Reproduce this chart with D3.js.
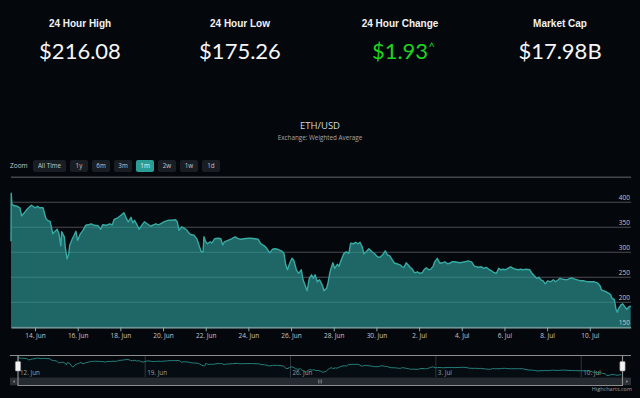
<!DOCTYPE html>
<html><head><meta charset="utf-8">
<script src="https://cdn.jsdelivr.net/npm/d3@7"></script>
<style>
html,body{margin:0;padding:0;background:#04070c;}
svg{display:block;}
</style></head><body>
<svg id="c" width="640" height="398"></svg>
<script>
const statLabels = ["24 Hour High", "24 Hour Low", "24 Hour Change", "Market Cap"];
const statValues = ["$216.08", "$175.26", "$1.93", "$17.98B"];
const chartTitle = "ETH/USD";
const chartSubtitle = "Exchange: Weighted Average";
const zoomButtons = ["All Time", "1y", "6m", "3m", "1m", "2w", "1w", "1d"];
const selectedButton = "1m";

const times = [
"2017-06-12 21:00","2017-06-12 21:15","2017-06-12 22:00","2017-06-13 01:00","2017-06-13 04:00","2017-06-13 07:00","2017-06-13 09:00","2017-06-13 12:00","2017-06-13 14:00","2017-06-13 18:00",
"2017-06-13 20:00","2017-06-14 00:00","2017-06-14 03:00","2017-06-14 05:00","2017-06-14 09:00","2017-06-14 12:00","2017-06-14 14:00","2017-06-14 17:00","2017-06-14 18:00","2017-06-14 20:00",
"2017-06-14 22:00","2017-06-15 01:00","2017-06-15 03:00","2017-06-15 05:00","2017-06-15 06:00","2017-06-15 09:00","2017-06-15 10:00","2017-06-15 12:00","2017-06-15 14:00","2017-06-15 15:00",
"2017-06-15 18:00","2017-06-15 20:00","2017-06-15 22:00","2017-06-16 00:00","2017-06-16 03:00","2017-06-16 06:00","2017-06-16 09:00","2017-06-16 12:00","2017-06-16 15:00","2017-06-16 19:00",
"2017-06-16 23:00","2017-06-17 02:00","2017-06-17 04:00","2017-06-17 08:00","2017-06-17 12:00","2017-06-17 15:00","2017-06-17 17:00","2017-06-17 21:00","2017-06-18 00:00","2017-06-18 04:00",
"2017-06-18 07:00","2017-06-18 09:00","2017-06-18 12:00","2017-06-18 14:00","2017-06-18 16:00","2017-06-18 19:00","2017-06-18 21:00","2017-06-19 00:00","2017-06-19 03:00","2017-06-19 07:00",
"2017-06-19 10:00","2017-06-19 13:00","2017-06-19 16:00","2017-06-19 19:00","2017-06-19 23:00","2017-06-20 02:00","2017-06-20 06:00","2017-06-20 10:00","2017-06-20 14:00","2017-06-20 16:00",
"2017-06-20 18:00","2017-06-20 21:00","2017-06-21 00:00","2017-06-21 03:00","2017-06-21 06:00","2017-06-21 08:00","2017-06-21 11:00","2017-06-21 14:00","2017-06-21 15:00","2017-06-21 17:00",
"2017-06-21 19:00","2017-06-21 21:00","2017-06-21 22:00","2017-06-22 00:00","2017-06-22 02:00","2017-06-22 05:00","2017-06-22 07:00","2017-06-22 10:00","2017-06-22 14:00","2017-06-22 17:00",
"2017-06-22 19:00","2017-06-22 21:00","2017-06-23 01:00","2017-06-23 05:00","2017-06-23 09:00","2017-06-23 12:00","2017-06-23 15:00","2017-06-23 19:00","2017-06-24 00:00","2017-06-24 03:00",
"2017-06-24 07:00","2017-06-24 11:00","2017-06-24 14:00","2017-06-24 18:00","2017-06-24 21:00","2017-06-25 00:00","2017-06-25 03:00","2017-06-25 06:00","2017-06-25 09:00","2017-06-25 13:00",
"2017-06-25 16:00","2017-06-25 18:00","2017-06-25 20:00","2017-06-25 22:30","2017-06-26 01:00","2017-06-26 03:00","2017-06-26 06:00","2017-06-26 08:30","2017-06-26 11:30","2017-06-26 13:30",
"2017-06-26 16:00","2017-06-26 18:00","2017-06-26 20:30","2017-06-26 23:00","2017-06-27 01:00","2017-06-27 03:00","2017-06-27 05:30","2017-06-27 08:00","2017-06-27 11:00","2017-06-27 13:00",
"2017-06-27 16:00","2017-06-27 17:30","2017-06-27 19:30","2017-06-27 21:00","2017-06-27 23:00","2017-06-28 01:00","2017-06-28 04:00","2017-06-28 06:00","2017-06-28 08:30","2017-06-28 11:30",
"2017-06-28 14:00","2017-06-28 17:00","2017-06-28 19:00","2017-06-28 22:00","2017-06-29 00:30","2017-06-29 03:30","2017-06-29 05:30","2017-06-29 08:00","2017-06-29 10:00","2017-06-29 12:30",
"2017-06-29 15:30","2017-06-29 19:00","2017-06-29 22:00","2017-06-30 01:00","2017-06-30 04:00","2017-06-30 07:00","2017-06-30 10:00","2017-06-30 12:30","2017-06-30 15:00","2017-06-30 17:30",
"2017-06-30 20:30","2017-06-30 23:30","2017-07-01 02:30","2017-07-01 05:00","2017-07-01 07:00","2017-07-01 09:30","2017-07-01 11:30","2017-07-01 14:00","2017-07-01 16:30","2017-07-01 19:00",
"2017-07-01 22:00","2017-07-02 01:00","2017-07-02 03:30","2017-07-02 05:30","2017-07-02 08:00","2017-07-02 11:00","2017-07-02 13:00","2017-07-02 16:00","2017-07-02 17:30","2017-07-02 20:30",
"2017-07-02 23:30","2017-07-03 02:00","2017-07-03 05:00","2017-07-03 08:00","2017-07-03 10:30","2017-07-03 13:00","2017-07-03 16:00","2017-07-03 19:00","2017-07-03 22:00","2017-07-04 03:30",
"2017-07-04 07:00","2017-07-04 11:00","2017-07-04 14:00","2017-07-04 16:30","2017-07-04 19:00","2017-07-04 22:00","2017-07-05 01:00","2017-07-05 03:30","2017-07-05 06:30","2017-07-05 09:30",
"2017-07-05 12:30","2017-07-05 15:00","2017-07-05 17:30","2017-07-05 20:00","2017-07-05 22:30","2017-07-06 01:00","2017-07-06 04:00","2017-07-06 07:00","2017-07-06 10:00","2017-07-06 12:30",
"2017-07-06 15:30","2017-07-06 18:30","2017-07-06 21:00","2017-07-07 00:30","2017-07-07 04:30","2017-07-07 07:00","2017-07-07 09:30","2017-07-07 12:00","2017-07-07 14:30","2017-07-07 17:00",
"2017-07-07 19:30","2017-07-07 22:00","2017-07-08 00:30","2017-07-08 04:00","2017-07-08 07:00","2017-07-08 09:30","2017-07-08 12:30","2017-07-08 14:30","2017-07-08 18:00","2017-07-08 21:30",
"2017-07-09 00:30","2017-07-09 03:30","2017-07-09 06:30","2017-07-09 10:00","2017-07-09 14:00","2017-07-09 17:30","2017-07-09 21:30","2017-07-10 01:00","2017-07-10 05:00","2017-07-10 08:30",
"2017-07-10 11:30","2017-07-10 13:00","2017-07-10 16:00","2017-07-10 18:30","2017-07-10 21:30","2017-07-10 23:30","2017-07-11 01:00","2017-07-11 03:30","2017-07-11 05:30","2017-07-11 07:00",
"2017-07-11 08:30","2017-07-11 11:00","2017-07-11 13:00","2017-07-11 15:30","2017-07-11 17:30","2017-07-11 20:00","2017-07-11 22:00"
];
const prices = [
322,418,396,393,392,389,373,379,384,391,
394,389,392,389,389,369,364,362,354,337,
341,346,337,313,341,331,311,287,297,314,
327,334,342,324,337,344,354,355,357,354,
353,346,355,354,357,355,366,369,373,379,
367,361,370,359,364,354,346,354,361,356,
352,355,357,355,359,362,364,364,365,361,
344,351,348,344,337,335,334,327,322,311,
301,301,331,321,317,321,319,327,328,327,
315,321,324,327,331,328,326,327,328,328,
327,326,317,313,307,299,306,307,306,303,
298,275,265,278,288,284,265,258,265,245,
233,223,248,255,248,255,241,245,235,223,
228,238,258,268,279,268,276,272,285,298,
301,298,318,317,320,317,320,311,297,301,
307,301,297,291,290,295,303,295,293,286,
278,277,275,271,270,279,275,270,266,259,
261,258,259,265,269,265,266,273,281,288,
278,279,281,277,278,281,281,280,279,281,
283,281,273,271,270,271,268,270,266,263,
259,258,268,265,266,265,268,271,268,266,
265,266,265,266,265,258,253,248,250,245,
243,237,243,241,245,241,245,248,246,245,
247,249,247,245,243,243,241,241,241,239,
233,225,223,221,218,215,208,206,186,180,
188,195,197,191,186,191,193
];
const yTicks = [150, 200, 250, 300, 350, 400, 450];
const xTickDates = ["2017-06-14","2017-06-16","2017-06-18","2017-06-20","2017-06-22","2017-06-24","2017-06-26",
  "2017-06-28","2017-06-30","2017-07-02","2017-07-04","2017-07-06","2017-07-08","2017-07-10"];
const navTickDates = ["2017-06-12","2017-06-19","2017-06-26","2017-07-03","2017-07-10"];

const parseT = d3.utcParse("%Y-%m-%d %H:%M");
const parseD = d3.utcParse("%Y-%m-%d");
const data = times.map((t, i) => ({ t: parseT(t), v: prices[i] }));
const fmt = d3.utcFormat("%-d. %b");

const svg = d3.select("#c");
const FONT = "'Open Sans', 'DejaVu Sans', sans-serif";

// ---- stats header
const colX = d3.scalePoint().domain(statLabels).range([80, 560]);
statLabels.forEach((lab, i) => {
  svg.append("text").attr("x", colX(lab)).attr("y", 26.5).attr("text-anchor", "middle")
    .attr("font-family", "'Liberation Sans', Arial, sans-serif").attr("font-weight", "bold")
    .attr("font-size", 10).attr("fill", "#f2f2f2").text(lab);
  const isChange = i === 2;
  svg.append("text").attr("x", colX(lab)).attr("y", 59.3).attr("text-anchor", "middle")
    .attr("font-family", "Lato, sans-serif").attr("font-weight", 400)
    .attr("font-size", 22).attr("fill", isChange ? "#1ed41e" : "#f5f5f5").text(statValues[i]);
  if (isChange) {
    svg.append("text").attr("x", colX(lab) + 28.5).attr("y", 51)
      .attr("font-family", "Lato, sans-serif").attr("font-size", 11)
      .attr("fill", "#1ed41e").text("^");
  }
});

// ---- title
svg.append("text").attr("x", 320).attr("y", 129).attr("text-anchor", "middle")
  .attr("font-family", FONT).attr("font-size", 9.5).attr("fill", "#d3d9df").text(chartTitle);
svg.append("text").attr("x", 320).attr("y", 140).attr("text-anchor", "middle")
  .attr("font-family", FONT).attr("font-size", 6.3).attr("fill", "#a8a8a8").text(chartSubtitle);

// ---- range selector
svg.append("text").attr("x", 10).attr("y", 168.3).attr("font-family", FONT)
  .attr("font-size", 6.5).attr("fill", "#c8c8c8").text("Zoom");
let bx = 33;
zoomButtons.forEach(b => {
  const w = b === "All Time" ? 33 : 18;
  const sel = b === selectedButton;
  svg.append("rect").attr("x", bx).attr("y", 160).attr("width", w).attr("height", 12)
    .attr("rx", 2).attr("fill", sel ? "#2a9d96" : "#191e25");
  svg.append("text").attr("x", bx + w / 2).attr("y", 168.3).attr("text-anchor", "middle")
    .attr("font-family", FONT).attr("font-size", 6.3).attr("fill", sel ? "#eaf6f5" : "#c4c4c4").text(b);
  bx += w + 4;
});

// ---- main chart
const t0 = data[0].t, t1 = data[data.length - 1].t;
const x = d3.scaleUtc().domain([t0, t1]).range([11, 630.7]);
const y = d3.scaleLinear().domain([150, 450]).range([327.3, 177.3]);

const grid = svg.append("g");
yTicks.forEach(v => {
  grid.append("line").attr("x1", 11).attr("x2", 631).attr("y1", y(v)).attr("y2", y(v))
    .attr("stroke", v === 450 ? "#44484d" : "#4a4d52").attr("stroke-width", v === 450 ? 1.6 : 1.1);
});

svg.append("path").datum(data)
  .attr("d", d3.area().x(d => x(d.t)).y0(y(150)).y1(d => y(d.v)))
  .attr("fill", "rgb(46,154,149)").attr("fill-opacity", 0.66);
svg.append("path").datum(data)
  .attr("d", d3.line().x(d => x(d.t)).y(d => y(d.v)))
  .attr("fill", "none").attr("stroke", "#36aaa3").attr("stroke-width", 1.4).attr("stroke-linejoin", "round");

// y labels
yTicks.filter(v => v < 450).forEach(v => {
  svg.append("text").attr("x", 630).attr("y", y(v) - 2.5).attr("text-anchor", "end")
    .attr("font-family", FONT).attr("font-size", 6.5).attr("fill", "#c6c6c6").text(v);
});

// x axis
const xAxis = d3.axisBottom(x).tickValues(xTickDates.map(parseD)).tickFormat(fmt).tickSize(4).tickSizeOuter(0);
const gx = svg.append("g").attr("transform", `translate(0,${y(150)})`).call(xAxis);
gx.select(".domain").attr("stroke", "#86aeae").attr("stroke-width", 1.2);
gx.selectAll(".tick line").attr("stroke", "#86aeae");
gx.selectAll(".tick text").attr("font-family", FONT).attr("font-size", 6.5).attr("fill", "#c8c8c8").attr("dy", "0.5em");

// ---- navigator
const nx = d3.scaleUtc().domain([t0, t1]).range([18, 621]);
const ny = d3.scaleLinear().domain([165, 420]).range([377, 356]);
navTickDates.map(parseD).forEach(d => {
  const px = nx(d);
  if (px >= 18) {
    svg.append("line").attr("x1", px).attr("x2", px).attr("y1", 356).attr("y2", 377.5)
      .attr("stroke", "#30353b").attr("stroke-width", 1);
  }
  svg.append("text").attr("x", Math.max(px, 18) + 2).attr("y", 375.3)
    .attr("font-family", FONT).attr("font-size", 6.3).attr("fill", "#a0a0a0").text(fmt(d));
});
svg.append("path").datum(data)
  .attr("d", d3.area().x(d => nx(d.t)).y0(377).y1(d => ny(d.v)))
  .attr("fill", "#2a8d88").attr("fill-opacity", 0.05);
svg.append("path").datum(data)
  .attr("d", d3.line().x(d => nx(d.t)).y(d => ny(d.v)))
  .attr("fill", "none").attr("stroke", "#24807b").attr("stroke-width", 1);

// scrollbar
svg.append("rect").attr("x", 10).attr("y", 377.7).attr("width", 621).attr("height", 7.5).attr("fill", "#1f242b");
svg.append("rect").attr("x", 18).attr("y", 377.7).attr("width", 604.5).attr("height", 7.5).attr("fill", "#262b32");
[10, 623.5].forEach((bxp, i) => {
  svg.append("rect").attr("x", bxp).attr("y", 377.7).attr("width", 7.5).attr("height", 7.5).attr("fill", "#2c3138");
  const cx = bxp + 3.75, cy = 381.45;
  svg.append("path").attr("d", i === 0
      ? `M${cx + 1},${cy - 1.5}L${cx - 1},${cy}L${cx + 1},${cy + 1.5}Z`
      : `M${cx - 1},${cy - 1.5}L${cx + 1},${cy}L${cx - 1},${cy + 1.5}Z`)
    .attr("fill", "#8a8a8a");
});
[-1.5, 0, 1.5].forEach(o => {
  svg.append("line").attr("x1", 320 + o).attr("x2", 320 + o).attr("y1", 379.5).attr("y2", 383.5)
    .attr("stroke", "#8a8a8a").attr("stroke-width", 0.7);
});

// outline
svg.append("path")
  .attr("d", `M10,355.5H631M18,355.5V385.5H622.5V355.5`)
  .attr("fill", "none").attr("stroke", "#8d8d8d").attr("stroke-width", 1.2);

// handles
[18, 622.5].forEach(hx => {
  svg.append("rect").attr("x", hx - 2.6).attr("y", 361.5).attr("width", 5.2).attr("height", 9.5)
    .attr("rx", 1).attr("fill", "#f2f2f2").attr("stroke", "#9a9a9a").attr("stroke-width", 0.6);
});

// credits
svg.append("text").attr("x", 632).attr("y", 391).attr("text-anchor", "end")
  .attr("font-family", FONT).attr("font-size", 5.5).attr("fill", "#a0a0a0").text("Highcharts.com");
</script>
</body></html>
